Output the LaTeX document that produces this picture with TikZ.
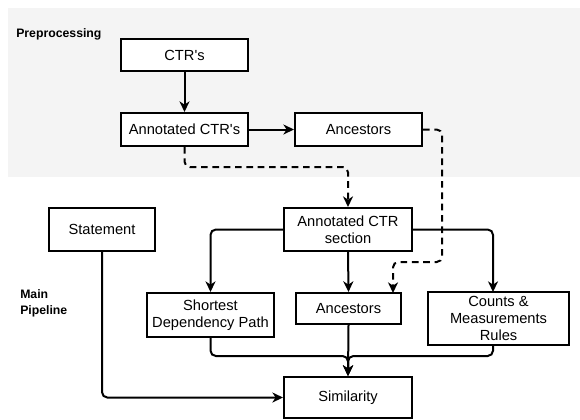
\documentclass[tikz,border=0pt]{standalone}
\usepackage{fontspec}
\setmainfont{Liberation Sans}
\usetikzlibrary{arrows.meta,calc}
\definecolor{bggray}{HTML}{F4F4F4}
\newcommand{\apos}{\textquotesingle}
\tikzset{
  box/.style={draw=black, line width=1.5pt, fill=white, align=center, inner sep=1pt,
    font=\fontsize{11}{12.75}\selectfont},
  lbl/.style={font=\fontsize{9.2}{12}\selectfont\bfseries, inner sep=0pt, align=left},
  conn/.style={draw=black, line width=1.5pt, rounded corners=4pt,
    -{Stealth[length=8pt,width=7.5pt,inset=2.5pt]}},
  dconn/.style={conn, dash pattern=on 5pt off 3.5pt},
  plain/.style={draw=black, line width=1.5pt, rounded corners=4pt}
}
\begin{document}
\begin{tikzpicture}[x=0.75pt,y=-0.75pt]
\useasboundingbox (0,0) rectangle (580,419);
\fill[bggray] (8,8) rectangle (580,177);

\node[lbl, anchor=west] (pre) at (16,34) {Preprocessing};
\node[lbl, anchor=west] (mainp) at (20,303) {Main\\Pipeline};

\node[box, minimum width=95.25pt, minimum height=24pt] (ctr) at (184.5,55) {CTR\apos s};
\node[box, minimum width=95.25pt, minimum height=24.75pt] (actr) at (184.5,129.5) {Annotated CTR\apos s};
\node[box, minimum width=95.25pt, minimum height=24.75pt] (anc1) at (358.5,129.5) {Ancestors};
\node[box, minimum width=96pt, minimum height=32.25pt] (acs) at (348,229.5) {Annotated CTR\\section};
\node[box, minimum width=79.5pt, minimum height=32.25pt] (st) at (102,229.5) {Statement};
\node[box, minimum width=95.25pt, minimum height=33pt] (sdp) at (210.5,315) {Shortest\\Dependency Path};
\node[box, minimum width=78.75pt, minimum height=23.25pt] (anc2) at (348.5,308.5) {Ancestors};
\node[box, minimum width=105.75pt, minimum height=39.75pt] (cmr) at (498.5,318.5) {Counts \&\\Measurements\\Rules};
\node[box, minimum width=96pt, minimum height=30.75pt] (sim) at (348,397.5) {Similarity};

\coordinate (m) at (348,356);
\coordinate (d1) at (348,167);
\coordinate (d2) at (442,262);
\coordinate (d3) at (393,293);
\coordinate (rt) at (493,292);

\draw[conn] (ctr) -- (actr);
\draw[conn] (actr) -- (anc1);
\draw[dconn] (actr.south) |- (d1) -- (acs.north);
\draw[dconn] (anc1.east) -| (d2) -| (d3);

\draw[conn] (acs.west) -| (sdp.north);
\draw[conn] (acs.south) -- (anc2.north);
\draw[conn] (acs.east) -| (rt);

\draw[conn] (sdp.south) |- (m) -- (sim.north);
\draw[conn] (anc2.south) -- (sim.north);
\draw[conn] (cmr.south -| rt) |- (m) -- (sim.north);
\draw[conn] (st.south) |- (sim.west);
\end{tikzpicture}
\end{document}
